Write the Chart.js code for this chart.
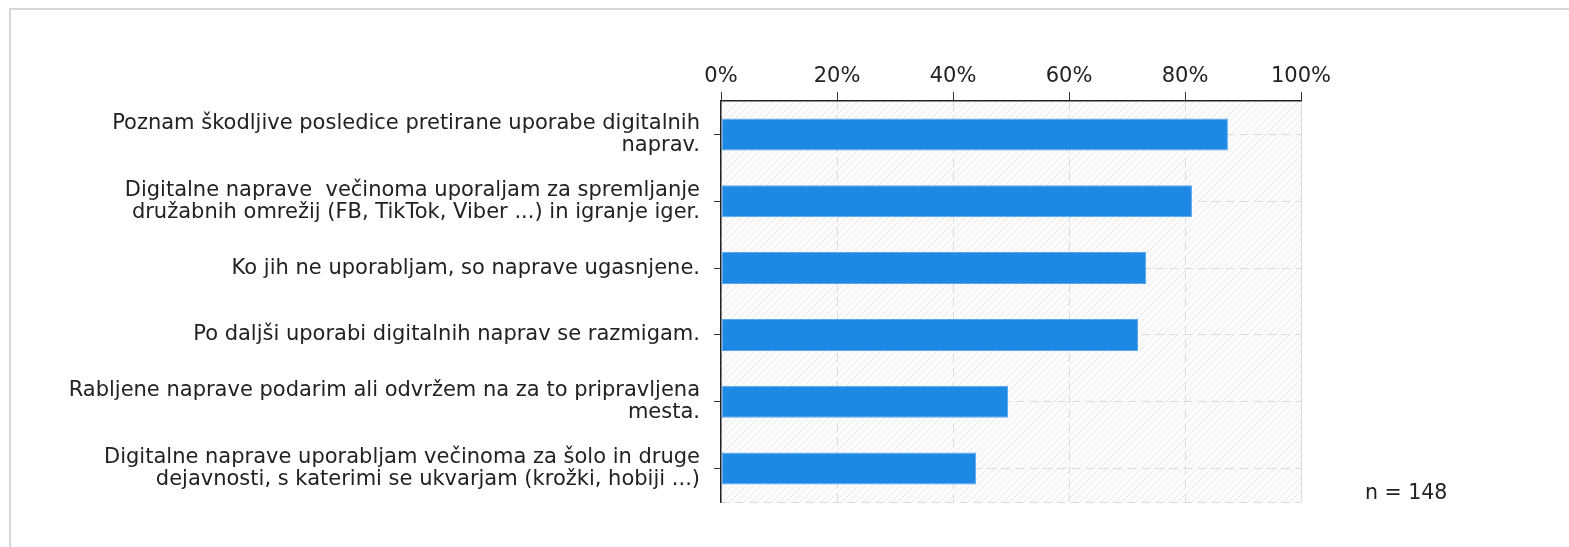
<!DOCTYPE html>
<html>
<head>
<meta charset="utf-8">
<script src="https://cdn.jsdelivr.net/npm/chart.js@4"></script>
<style>
  body { margin: 0; background: #fff; }
  #wrap { position: relative; width: 1569px; height: 547px; overflow: hidden; }
  #frame { position: absolute; left: 9px; top: 8px; width: 1600px; height: 600px;
           border-left: 2px solid #d6d6d6; border-top: 2px solid #d6d6d6; }
  #n-label { position: absolute; left: 1365px; top: 480px; font: 20.5px "DejaVu Sans", sans-serif; color: #222; }
</style>
</head>
<body>
<div id="wrap">
  <div id="frame"></div>
  <canvas id="chart"></canvas>
  <div id="n-label">n = 148</div>
</div>
<script>
// categories (y-axis labels, wrapped the same way as the original)
const categories = [
    ["Poznam škodljive posledice pretirane uporabe digitalnih", "naprav."],
    ["Digitalne naprave  večinoma uporaljam za spremljanje", "družabnih omrežij (FB, TikTok, Viber ...) in igranje iger."],
    "Ko jih ne uporabljam, so naprave ugasnjene.",
    "Po daljši uporabi digitalnih naprav se razmigam.",
    ["Rabljene naprave podarim ali odvržem na za to pripravljena", "mesta."],
    ["Digitalne naprave uporabljam večinoma za šolo in druge", "dejavnosti, s katerimi se ukvarjam (krožki, hobiji ...)"]
];

// share of respondents (%)
const shares = [87.4, 81.2, 73.3, 71.9, 49.5, 44.0];

const tickMin = 0;
const tickMax = 100;
const tickStep = 20;

const font = { family: "DejaVu Sans", size: 21 };

// hatched plot background
function makeHatch(ctx) {
    const c = document.createElement("canvas");
    c.width = 7; c.height = 7;
    const p = c.getContext("2d");
    p.fillStyle = "#fcfcfc";
    p.fillRect(0, 0, 7, 7);
    p.strokeStyle = "#e9e9e9";
    p.lineWidth = 1;
    p.beginPath();
    p.moveTo(0, 7); p.lineTo(7, 0);
    p.moveTo(-1, 1); p.lineTo(1, -1);
    p.moveTo(6, 8); p.lineTo(8, 6);
    p.stroke();
    return ctx.createPattern(c, "repeat");
}

const backdrop = {
    id: "backdrop",
    beforeDraw(chart) {
        const { ctx, chartArea: a } = chart;
        ctx.save();
        ctx.fillStyle = makeHatch(ctx);
        ctx.fillRect(a.left, a.top, a.right - a.left, a.bottom - a.top);
        // dashed bottom edge of the plot
        ctx.strokeStyle = "#dcdcdc";
        ctx.lineWidth = 1;
        ctx.setLineDash([9, 5]);
        ctx.beginPath();
        ctx.moveTo(a.left, a.bottom + 0.5);
        ctx.lineTo(a.right, a.bottom + 0.5);
        ctx.stroke();
        ctx.restore();
    }
};

const chartEl = document.getElementById("chart");
chartEl.style.width = "1569px";
chartEl.style.height = "547px";

new Chart(chartEl, {
    type: "bar",
    data: {
        labels: categories,
        datasets: [{
            data: shares,
            backgroundColor: "#1e88e5",
            borderColor: "#5aa6ee",
            borderWidth: 1,
            borderSkipped: false,
            barPercentage: 0.48,
            categoryPercentage: 1
        }]
    },
    options: {
        indexAxis: "y",
        responsive: false,
        animation: false,
        layout: { padding: { left: 0, top: 0, right: 268, bottom: 45 } },
        plugins: { legend: { display: false }, tooltip: { enabled: false } },
        scales: {
            x: {
                position: "top",
                min: tickMin,
                max: tickMax,
                afterFit(scale) { scale.height = 101; },
                ticks: {
                    stepSize: tickStep,
                    padding: 3,
                    color: "#222",
                    font: font,
                    callback: (v) => v + "%"
                },
                grid: {
                    color: "#dcdcdc",
                    tickColor: "#333",
                    tickLength: 9,
                    tickBorderDash: []
                },
                border: {
                    color: "#222",
                    width: 1.5,
                    dash: (ctx) => (ctx.tick && ctx.tick.value === tickMax ? [] : [9, 5])
                }
            },
            y: {
                afterFit(scale) { scale.width = 721; },
                ticks: {
                    padding: 14,
                    color: "#222",
                    font: { ...font, lineHeight: 1.05 }
                },
                grid: {
                    offset: false,
                    color: "#dcdcdc",
                    tickColor: "#333",
                    tickLength: 7,
                    tickBorderDash: []
                },
                border: {
                    color: "#222",
                    width: 1.5,
                    dash: [9, 5]
                }
            }
        }
    },
    plugins: [backdrop]
});
</script>
</body>
</html>
